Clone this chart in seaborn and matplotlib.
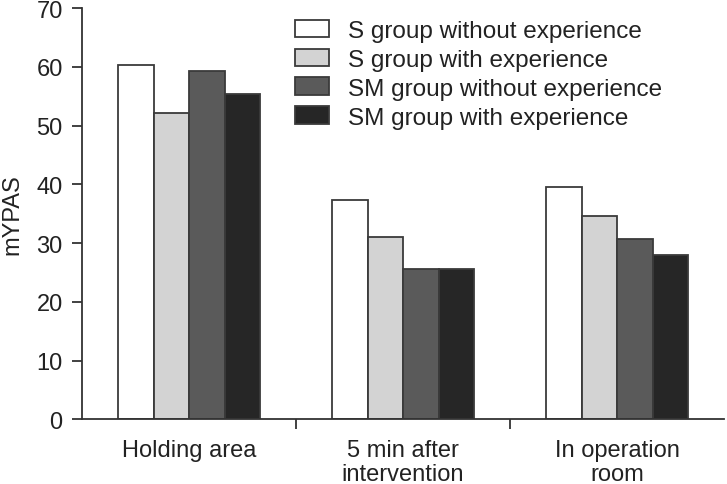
import pandas as pd
import matplotlib.pyplot as plt
import seaborn as sns

# values
phases = ['Holding area', '5 min after\nintervention', 'In operation\nroom']
groups = ['S group without experience', 'S group with experience',
          'SM group without experience', 'SM group with experience']
s_without = [60.3, 37.4, 39.5]
s_with = [52.1, 31.0, 34.7]
sm_without = [59.3, 25.6, 30.8]
sm_with = [55.4, 25.6, 28.0]
colors = ['#ffffff', '#d3d3d3', '#5a5a5a', '#262626']

rows = []
for g, vals in zip(groups, [s_without, s_with, sm_without, sm_with]):
    for p, v in zip(phases, vals):
        rows.append({'phase': p, 'group': g, 'mYPAS': v})
df = pd.DataFrame(rows)

sns.set_style('ticks')
plt.rcParams['font.family'] = ['Liberation Sans', 'DejaVu Sans']

fig = plt.figure(figsize=(7.27, 4.85), dpi=100)
ax = fig.add_axes([0.113, 0.133, 0.883, 0.848])

sns.barplot(data=df, x='phase', y='mYPAS', hue='group', order=phases,
            hue_order=groups, palette=colors, width=0.665,
            edgecolor='#3a3a3a', linewidth=1.3, ax=ax)

ax.set_xlim(-0.5, 2.5)
ax.set_ylim(0, 70)
ax.set_yticks(range(0, 71, 10))
ax.set_xlabel('')
ax.set_ylabel('mYPAS', fontsize=17, color='#222222', labelpad=9)
sns.despine(ax=ax)
for s in ['left', 'bottom']:
    ax.spines[s].set_color('#333333')
    ax.spines[s].set_linewidth(1.3)

# category labels without ticks, small ticks between categories
ax.tick_params(axis='x', which='major', length=0, labelsize=17,
               labelcolor='#222222', pad=14)
ax.set_xticks([0.5, 1.5], minor=True)
ax.tick_params(axis='x', which='minor', length=7, width=1.3, color='#333333')
ax.tick_params(axis='y', length=7, width=1.3, color='#333333', pad=7,
               labelsize=17, labelcolor='#222222')
for t in ax.get_xticklabels():
    t.set_linespacing(1.15)

ax.legend(loc='upper left', bbox_to_anchor=(0.331, 0.972), frameon=False,
          fontsize=17.5, handlelength=1.4, handleheight=0.74,
          handletextpad=0.78, labelspacing=0.27, borderpad=0,
          borderaxespad=0, labelcolor='#222222')

fig.savefig('out.png', dpi=100)
